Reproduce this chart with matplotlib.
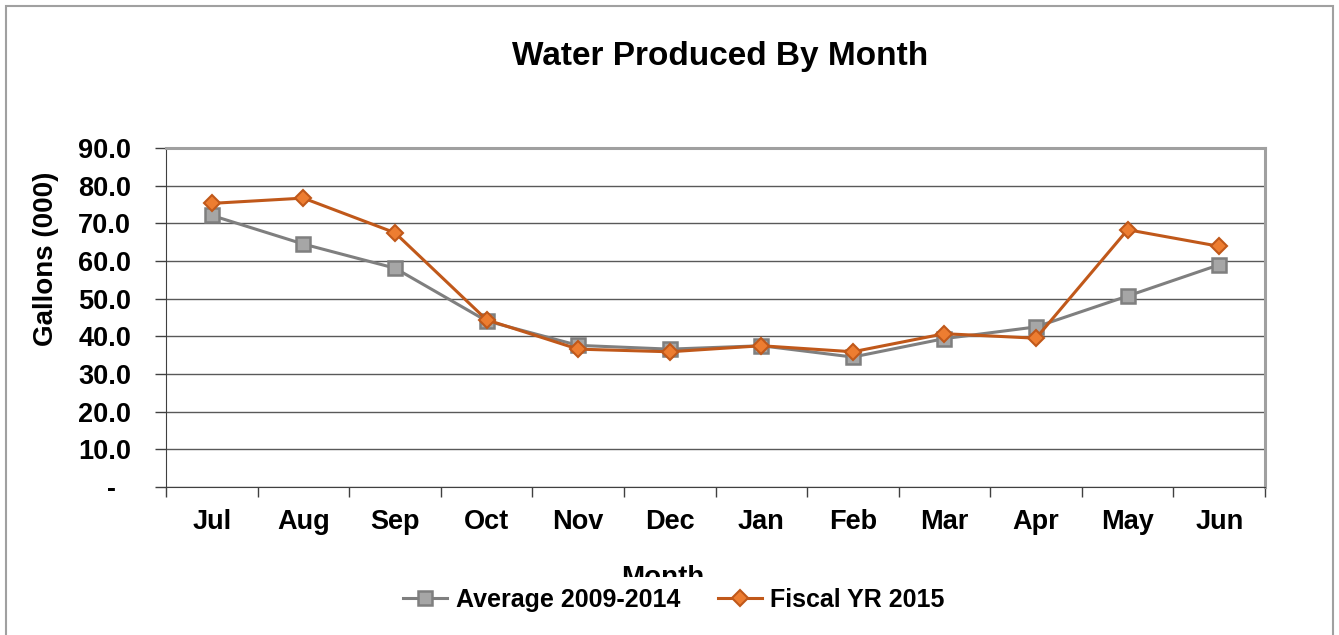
import matplotlib.pyplot as plt
from matplotlib.patches import Rectangle
from matplotlib.ticker import FixedLocator

plt.rcParams['font.family'] = ['Liberation Sans', 'DejaVu Sans']
plt.rcParams['font.weight'] = 'bold'

months = ["Jul", "Aug", "Sep", "Oct", "Nov", "Dec", "Jan", "Feb", "Mar", "Apr", "May", "Jun"]
avg_2009_2014 = [72.1, 64.5, 58.1, 44.1, 37.6, 36.6, 37.5, 34.5, 39.4, 42.5, 50.7, 59.0]
fiscal_2015 = [75.3, 76.7, 67.5, 44.4, 36.6, 35.9, 37.5, 35.9, 40.7, 39.5, 68.3, 63.9]
y_ticks = [0, 10, 20, 30, 40, 50, 60, 70, 80, 90]
y_labels = ["-  "] + ["%.1f" % v for v in y_ticks[1:]]

W, H = 1339, 635
fig = plt.figure(figsize=(W / 100, H / 100), dpi=100)
ax = fig.add_axes([166 / W, 1 - 487 / H, (1265 - 166) / W, (487 - 148) / H])

x = list(range(len(months)))
ax.plot(x, avg_2009_2014, color="#7f7f7f", lw=2.2, marker="s", ms=10,
        mfc="#a6a6a6", mec="#7f7f7f", mew=1.8, label="Average 2009-2014", zorder=3)
ax.plot(x, fiscal_2015, color="#c0581a", lw=2.2, marker="D", ms=8.5,
        mfc="#ed7d31", mec="#c0581a", mew=1.5, label="Fiscal YR 2015", zorder=4)

ax.set_xlim(-0.5, len(months) - 0.5)
ax.set_ylim(0, 90)
ax.set_yticks(y_ticks)
ax.set_yticklabels(y_labels, fontsize=19.5, fontweight="bold")
ax.set_xticks(x)
ax.set_xticklabels(months, fontsize=19.5, fontweight="bold")
ax.xaxis.set_minor_locator(FixedLocator([i - 0.5 for i in range(len(months) + 1)]))
ax.tick_params(axis="x", which="major", length=0, pad=16)
ax.tick_params(axis="x", which="minor", length=7, width=1, color="#404040", direction="out")
ax.tick_params(axis="y", length=8, width=1, color="#404040", pad=17)

ax.grid(axis="y", color="#595959", lw=1)
ax.set_axisbelow(True)
for s in ["top", "right"]:
    ax.spines[s].set_color("#a0a0a0")
    ax.spines[s].set_linewidth(2.2)
ax.spines["left"].set_color("#404040")
ax.spines["bottom"].set_color("#404040")

fig.text(46 / W, 1 - 259 / H, "Gallons (000)", fontsize=20, fontweight="bold",
         rotation=90, ha="center", va="center")
fig.text(720 / W, 1 - 57 / H, "Water Produced By Month", fontsize=24,
         fontweight="bold", ha="center", va="center")

# x-axis title, partly hidden behind the legend area
fig.text(663 / W, 1 - 578 / H, "Month", fontsize=20, fontweight="bold",
         ha="center", va="center", zorder=3)
fig.patches.append(Rectangle((0.01, 0), 0.98, 1 - 577 / H, transform=fig.transFigure,
                             facecolor="white", edgecolor="none", zorder=4))

leg = fig.legend(loc="center", bbox_to_anchor=(674 / W, 1 - 600 / H), ncol=2,
                 frameon=False, handlelength=1.75, columnspacing=1.5,
                 handletextpad=0.35, prop={"weight": "bold", "size": 18})
leg.set_zorder(5)

# chart border
fig.patches.append(Rectangle((6 / W, -0.05), (1333 - 6) / W, 1.05 - 6 / H,
                             transform=fig.transFigure, fill=False,
                             edgecolor="#a0a0a0", lw=1.5, zorder=6))

fig.savefig("out.png", dpi=100)
